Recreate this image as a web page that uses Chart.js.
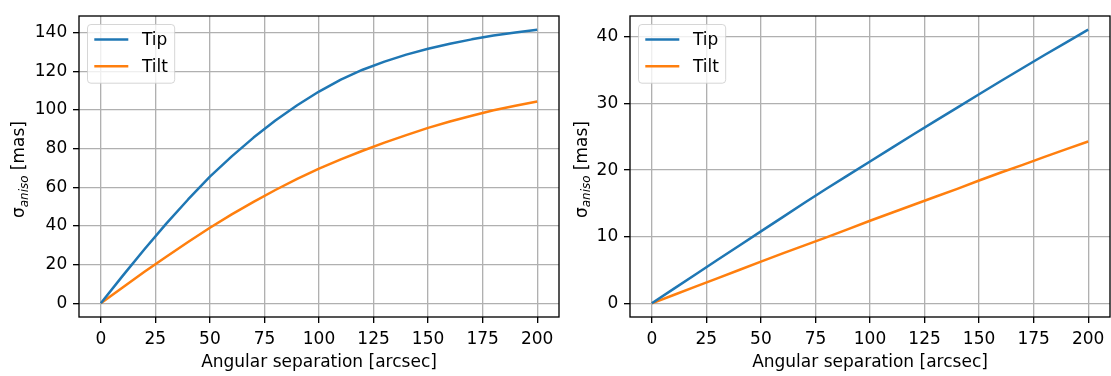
<!DOCTYPE html>
<html>
<head>
<meta charset="utf-8">
<script src="https://cdn.jsdelivr.net/npm/chart.js@4.4.1/dist/chart.umd.min.js"></script>
<style>
  html, body { margin: 0; padding: 0; background: #fff; }
  #wrap { position: relative; width: 1111px; height: 376px; }
  canvas { position: absolute; top: 0; }
</style>
</head>
<body>
<div id="wrap">
  <canvas id="panelA" width="560" height="376" style="left:0"></canvas>
  <canvas id="panelB" width="551" height="376" style="left:560px"></canvas>
</div>
<script>
// angular separation [arcsec]
const separation = [0, 10, 20, 30, 40, 50, 60, 70, 80, 90, 100,
                    110, 120, 130, 140, 150, 160, 170, 180, 190, 200];

// left panel: sigma_aniso [mas]
const tipA  = [0, 14.2, 28.0, 41.2, 53.7, 65.5, 76.0, 85.7, 94.5, 102.4, 109.5,
               115.7, 120.8, 125.0, 128.6, 131.6, 134.2, 136.5, 138.5, 140.1, 141.5];
const tiltA = [0, 8.2, 16.3, 24.1, 31.7, 39.1, 46.0, 52.5, 58.6, 64.3, 69.6,
               74.4, 78.9, 83.1, 87.0, 90.7, 94.0, 97.0, 99.8, 102.2, 104.4];

// right panel: sigma_aniso [mas]
const tipB  = [0, 2.17, 4.33, 6.5, 8.65, 10.8, 12.95, 15.1, 17.2, 19.25, 21.3,
               23.35, 25.4, 27.4, 29.4, 31.4, 33.4, 35.35, 37.3, 39.2, 41.1];
const tiltB = [0, 1.25, 2.5, 3.75, 5.0, 6.25, 7.5, 8.7, 9.9, 11.15, 12.4,
               13.6, 14.8, 16.0, 17.2, 18.45, 19.65, 20.8, 22.0, 23.15, 24.3];

const xTicks  = [0, 25, 50, 75, 100, 125, 150, 175, 200];
const yTicksA = [0, 20, 40, 60, 80, 100, 120, 140];
const yTicksB = [0, 10, 20, 30, 40];

const PX = 17;
const FAMILY = "'DejaVu Sans', sans-serif";
const GRID = '#b0b0b0';
const TIP_COLOR = '#1f77b4';
const TILT_COLOR = '#ff7f0e';

Chart.defaults.font.family = FAMILY;
Chart.defaults.font.size = PX;
Chart.defaults.color = '#000';

// full box frame, inset legend and the y label with its subscript
const axesDecor = {
  id: 'axesDecor',
  afterDatasetsDraw(chart, args, opts) {
    const { ctx, chartArea: a } = chart;
    ctx.save();

    ctx.strokeStyle = '#000';
    ctx.lineWidth = 1.33;
    ctx.strokeRect(a.left, a.top, a.right - a.left, a.bottom - a.top);

    // legend, upper left
    ctx.font = `${PX}px ${FAMILY}`;
    const sets = chart.data.datasets;
    const pad = 0.4 * PX, handle = 2 * PX, gap = 0.8 * PX;
    const textW = Math.max(...sets.map(d => ctx.measureText(d.label).width));
    const bx = a.left + 0.5 * PX, by = a.top + 0.5 * PX;
    const bw = pad + handle + gap + textW + pad, bh = 58.7;
    ctx.beginPath();
    ctx.roundRect(bx, by, bw, bh, 0.2 * PX);
    ctx.fillStyle = 'rgba(255,255,255,0.8)';
    ctx.fill();
    ctx.strokeStyle = 'rgba(204,204,204,0.8)';
    ctx.lineWidth = 1;
    ctx.stroke();
    sets.forEach((d, i) => {
      const ry = by + 15 + i * 26.7;
      ctx.beginPath();
      ctx.moveTo(bx + pad, ry);
      ctx.lineTo(bx + pad + handle, ry);
      ctx.strokeStyle = d.borderColor;
      ctx.lineWidth = d.borderWidth;
      ctx.stroke();
      ctx.fillStyle = '#000';
      ctx.textBaseline = 'middle';
      ctx.textAlign = 'left';
      ctx.fillText(d.label, bx + pad + handle + gap, ry + 1);
    });

    // rotated y label: sigma with italic subscript
    const small = `italic ${0.7 * PX}px ${FAMILY}`;
    const big = `${PX}px ${FAMILY}`;
    ctx.font = big;
    const w1 = ctx.measureText(opts.symbol).width;
    const w3 = ctx.measureText(opts.unit).width;
    ctx.font = small;
    const w2 = ctx.measureText(opts.sub).width;
    const x0 = -(w1 + w2 + w3) / 2;
    ctx.translate(opts.labelX, (a.top + a.bottom) / 2 + 3);
    ctx.rotate(-Math.PI / 2);
    ctx.fillStyle = '#000';
    ctx.textAlign = 'left';
    ctx.textBaseline = 'alphabetic';
    ctx.font = big;
    ctx.fillText(opts.symbol, x0, 0);
    ctx.font = small;
    ctx.fillText(opts.sub, x0 + w1, 3.5);
    ctx.font = big;
    ctx.fillText(opts.unit, x0 + w1 + w2, 0);
    ctx.restore();
  }
};

function makePanel(id, tip, tilt, yTicks, yAxisWidth, labelX) {
  const all = tip.concat(tilt);
  const lo = Math.min(...all), hi = Math.max(...all);
  const margin = (hi - lo) * 0.05;
  const line = (label, values, color) => ({
    label,
    data: separation.map((x, i) => ({ x, y: values[i] })),
    borderColor: color,
    backgroundColor: color,
    borderWidth: 2.5,
    borderJoinStyle: 'round',
    pointRadius: 0,
    tension: 0,
  });
  const grid = {
    color: GRID, lineWidth: 1.33,
    tickLength: 6, tickColor: '#000', tickWidth: 1.33,
  };
  return new Chart(document.getElementById(id), {
    type: 'line',
    data: {
      datasets: [
        line('Tip', tip, TIP_COLOR),
        line('Tilt', tilt, TILT_COLOR),
      ]
    },
    options: {
      responsive: false,
      animation: false,
      events: [],
      layout: { padding: { top: 9, right: 1, left: 0, bottom: 0 } },
      plugins: {
        legend: { display: false },
        tooltip: { enabled: false },
        axesDecor: { symbol: 'σ', sub: 'aniso', unit: ' [mas]', labelX },
      },
      scales: {
        x: {
          type: 'linear', min: -10, max: 210,
          afterBuildTicks: s => { s.ticks = xTicks.map(v => ({ value: v })); },
          afterFit: s => { s.height = 59; },
          grid,
          border: { display: false },
          ticks: { padding: 6.5, maxRotation: 0, autoSkip: false },
          title: {
            display: true, text: 'Angular separation [arcsec]',
            padding: { top: 0, bottom: 3 },
          },
        },
        y: {
          type: 'linear', min: lo - margin, max: hi + margin,
          afterBuildTicks: s => { s.ticks = yTicks.map(v => ({ value: v })); },
          afterFit: s => { s.width = yAxisWidth; },
          grid,
          border: { display: false },
          ticks: { padding: 5.8, autoSkip: false },
        }
      }
    },
    plugins: [axesDecor]
  });
}

makePanel('panelA', tipA, tiltA, yTicksA, 79, 24);
makePanel('panelB', tipB, tiltB, yTicksB, 70, 26.5);
</script>
</body>
</html>
